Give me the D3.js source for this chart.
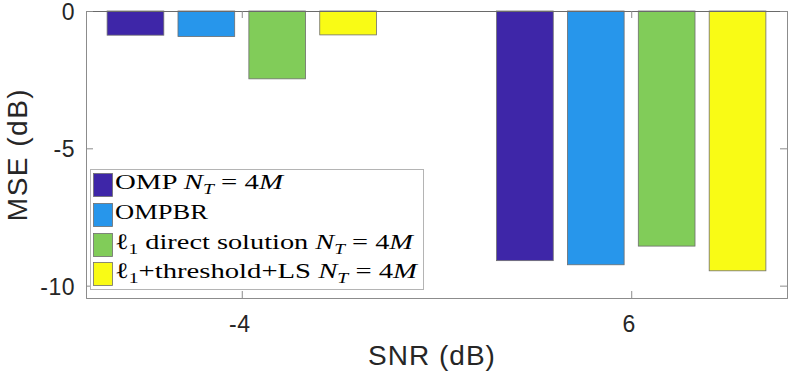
<!DOCTYPE html>
<html>
<head>
<meta charset="utf-8">
<script src="https://cdn.jsdelivr.net/npm/d3@7"></script>
<style>
  html, body { margin: 0; padding: 0; background: #fff; }
  svg { display: block; }
</style>
</head>
<body>
<svg id="chart" width="789" height="372"></svg>
<script>
// ---- data ----
const groups = [-4, 6];                       // SNR (dB)
const seriesNames = ["OMP", "OMPBR", "L1DIRECT", "L1THR"];
const seriesColors = ["#3e26a8", "#2796eb", "#81cc59", "#f9fb15"];
const omp      = [-0.88, -9.09];
const ompbr    = [-0.93, -9.24];
const l1direct = [-2.47, -8.56];
const l1thr    = [-0.87, -9.46];
const seriesValues = [omp, ompbr, l1direct, l1thr];
const xTicks = [-4, 6];
const yTicks = [0, -5, -10];
const xLabel = "SNR (dB)";
const yLabel = "MSE (dB)";

// ---- layout ----
const svg = d3.select("#chart");
const L = 86, R = 787, T = 11, B = 298;

const x = d3.scaleLinear().domain([-8, 10]).range([L, R]);
const y = d3.scaleLinear().domain([-10.45, 0]).range([B, T]);
// within-group offsets in data units
const xs = d3.scaleBand().domain(seriesNames).range([-3.64, 3.64]).paddingInner(0.2).paddingOuter(0.1);

const axisColor = "#8c8c8c";
const textColor = "#262626";

// bars
const barData = [];
seriesNames.forEach((s, si) => {
  groups.forEach((g, gi) => {
    barData.push({ s, si, g, v: seriesValues[si][gi] });
  });
});
svg.append("g").selectAll("rect").data(barData).join("rect")
  .attr("x", d => x(d.g + xs(d.s)))
  .attr("width", d => x(d.g + xs(d.s) + xs.bandwidth()) - x(d.g + xs(d.s)))
  .attr("y", d => y(0))
  .attr("height", d => y(d.v) - y(0))
  .attr("fill", d => seriesColors[d.si])
  .attr("stroke", "#6e6e6e")
  .attr("stroke-width", 0.8);

// axes with D3 axis generators (inward ticks)
const tickLen = 7;
const xAxisB = svg.append("g").attr("transform", `translate(0,${B})`)
  .call(d3.axisBottom(x).tickValues(xTicks).tickSize(-tickLen).tickFormat(""));
const xAxisT = svg.append("g").attr("transform", `translate(0,${T})`)
  .call(d3.axisTop(x).tickValues(xTicks).tickSize(-tickLen).tickFormat(""));
const yAxisL = svg.append("g").attr("transform", `translate(${L},0)`)
  .call(d3.axisLeft(y).tickValues(yTicks).tickSize(-tickLen).tickFormat(""));
const yAxisR = svg.append("g").attr("transform", `translate(${R},0)`)
  .call(d3.axisRight(y).tickValues(yTicks).tickSize(-tickLen).tickFormat(""));
[xAxisB, xAxisT, yAxisL, yAxisR].forEach(a => {
  a.selectAll("path.domain").attr("stroke", axisColor).attr("stroke-width", 1);
  a.selectAll(".tick line").attr("stroke", axisColor).attr("stroke-width", 1);
});
xAxisT.selectAll("path.domain").attr("stroke", "#6a6a6a");

// tick labels
svg.append("g").selectAll("text").data(xTicks).join("text")
  .attr("x", d => x(d) - 2)
  .attr("y", 332)
  .attr("text-anchor", "middle")
  .attr("font-family", "'Liberation Sans', Arial, sans-serif")
  .attr("font-size", 23)
  .attr("letter-spacing", 0.5)
  .attr("fill", textColor)
  .text(d => d);
svg.append("g").selectAll("text").data(yTicks).join("text")
  .attr("x", L - 11)
  .attr("y", d => y(d) + 9)
  .attr("text-anchor", "end")
  .attr("font-family", "'Liberation Sans', Arial, sans-serif")
  .attr("font-size", 23)
  .attr("letter-spacing", 0.5)
  .attr("fill", textColor)
  .text(d => d);

// axis labels
svg.append("text")
  .attr("x", 432).attr("y", 365)
  .attr("text-anchor", "middle")
  .attr("font-family", "'Liberation Sans', Arial, sans-serif")
  .attr("font-size", 28)
  .attr("letter-spacing", 1)
  .attr("fill", textColor)
  .text(xLabel);
svg.append("text")
  .attr("transform", `translate(27,${(T + B) / 2}) rotate(-90)`)
  .attr("text-anchor", "middle")
  .attr("font-family", "'Liberation Sans', Arial, sans-serif")
  .attr("font-size", 28)
  .attr("letter-spacing", 1.5)
  .attr("fill", textColor)
  .text(yLabel);

// legend
const lg = svg.append("g");
lg.append("rect").attr("x", 90.5).attr("y", 169.5).attr("width", 333).attr("height", 120)
  .attr("fill", "#fff").attr("stroke", "#b4b4b4").attr("stroke-width", 1);
const rowTops = [173, 203, 233, 262];
const textWidths = [168, 93, 298, 302];
// legend entries built from parts: [text, italic, subscript]
const legendParts = [
  [["OMP ", false, false], ["N", true, false], ["T", true, true], [" = 4", false, false], ["M", true, false]],
  [["OMPBR", false, false]],
  [["\u2113", false, false], ["1", false, true], [" direct solution ", false, false], ["N", true, false], ["T", true, true], [" = 4", false, false], ["M", true, false]],
  [["\u2113", false, false], ["1", false, true], ["+threshold+LS ", false, false], ["N", true, false], ["T", true, true], [" = 4", false, false], ["M", true, false]]
];
seriesNames.forEach((s, i) => {
  lg.append("rect").attr("x", 93.5).attr("y", rowTops[i] + 0.5).attr("width", 19).attr("height", 23)
    .attr("fill", seriesColors[i]).attr("stroke", "#6e6e6e").attr("stroke-width", 0.8);
  const t = lg.append("text")
    .attr("x", 115).attr("y", rowTops[i] + 16)
    .attr("font-family", "'Liberation Serif', 'Times New Roman', serif")
    .attr("font-size", 22)
    .attr("fill", "#000")
    .attr("textLength", textWidths[i])
    .attr("lengthAdjust", "spacingAndGlyphs")
    .attr("xml:space", "preserve")
    .style("white-space", "pre");
  let sub = false;
  legendParts[i].forEach(p => {
    const ts = t.append("tspan").text(p[0]);
    if (p[1]) ts.attr("font-style", "italic");
    if (p[2] && !sub) { ts.attr("dy", 5).attr("font-size", 15); sub = true; }
    else if (!p[2] && sub) { ts.attr("dy", -5); sub = false; }
  });
});
</script>
</body>
</html>
